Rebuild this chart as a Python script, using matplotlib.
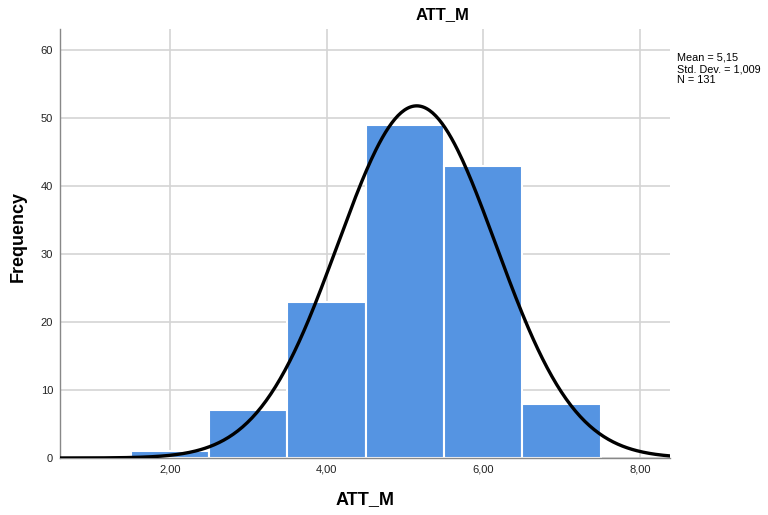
import numpy as np
import matplotlib.pyplot as plt

plt.rcParams['font.family'] = ['Liberation Sans', 'DejaVu Sans']

# Datos del histograma (ATT_M)
bordes = [1.5, 2.5, 3.5, 4.5, 5.5, 6.5, 7.5]
frecuencias = [1, 7, 23, 49, 43, 8]
media = 5.15
desvio = 1.009
n = 131

fig = plt.figure(figsize=(7.68, 5.15), dpi=100)
ax = fig.add_axes([60/768, 1 - 458/515, 610/768, 429/515])

centros = [(bordes[i] + bordes[i + 1]) / 2 for i in range(len(frecuencias))]
ax.bar(centros, frecuencias, width=1.0, color='#5594E2', edgecolor='white',
       linewidth=1.5, zorder=2)

# Curva normal
xs = np.linspace(0.5, 8.5, 400)
ys = n * 1.0 / (desvio * np.sqrt(2 * np.pi)) * np.exp(-0.5 * ((xs - media) / desvio) ** 2)
ax.plot(xs, ys, color='black', linewidth=2.4, zorder=3, solid_capstyle='round')

ax.set_xlim(0.596, 8.383)
ax.set_ylim(0, 63.1)
ax.set_xticks([2, 4, 6, 8])
ax.set_xticklabels(['2,00', '4,00', '6,00', '8,00'])
ax.set_yticks([0, 10, 20, 30, 40, 50, 60])
ax.tick_params(length=0, labelsize=8, colors='#222222', pad=5)
ax.grid(True, color='#d4d4d4', linewidth=1.2, zorder=0)
ax.set_axisbelow(True)
for lado in ['top', 'right']:
    ax.spines[lado].set_visible(False)
for lado in ['left', 'bottom']:
    ax.spines[lado].set_color('#888888')
    ax.spines[lado].set_linewidth(1.0)

fig.text(443/768, 1 - 15/515, 'ATT_M', fontsize=12, fontweight='bold',
         ha='center', va='center')
fig.text(18/768, 1 - 236/515, 'Frequency', fontsize=13, fontweight='bold',
         rotation=90, ha='center', va='center')
fig.text(365/768, 1 - 500/515, 'ATT_M', fontsize=13, fontweight='bold',
         ha='center', va='center')

fig.text(677/768, 1 - 53/515, 'Mean = 5,15\nStd. Dev. = 1,009\nN = 131',
         fontsize=7.8, va='top', ha='left', linespacing=1.15)

plt.savefig('out.png', dpi=100)
